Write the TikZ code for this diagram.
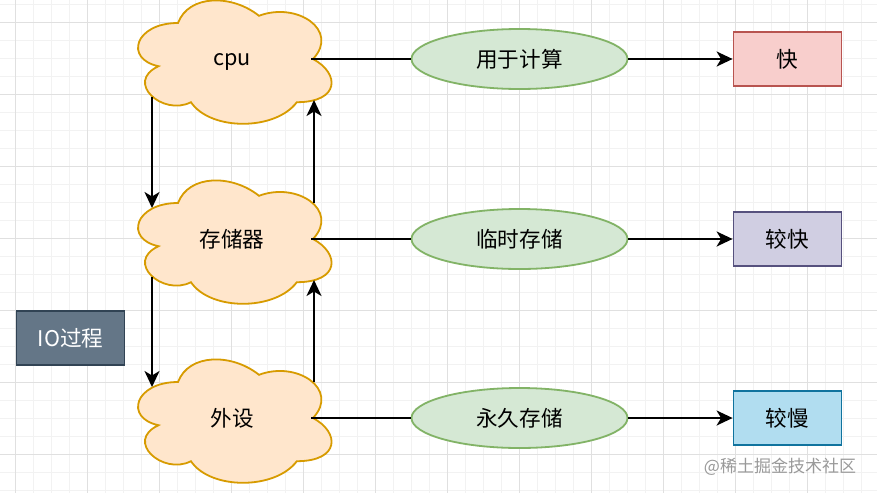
\documentclass[tikz,border=0pt]{standalone}
\usepackage{fontspec}
\setmainfont{Noto Sans CJK SC}
\usetikzlibrary{shapes.geometric,arrows.meta}

\definecolor{cloudfill}{HTML}{FFE6CC}
\definecolor{cloudline}{HTML}{D79B00}
\definecolor{ovalfill}{HTML}{D5E8D4}
\definecolor{ovalline}{HTML}{82B366}
\definecolor{redfill}{HTML}{F8CECC}
\definecolor{redline}{HTML}{B85450}
\definecolor{purplefill}{HTML}{D0CEE2}
\definecolor{purpleline}{HTML}{56517E}
\definecolor{bluefill}{HTML}{B1DDF0}
\definecolor{blueline}{HTML}{10739E}
\definecolor{iofill}{HTML}{647687}
\definecolor{ioline}{HTML}{314354}

% 云朵轮廓, #1 #2 为中心
\newcommand{\cloudat}[2]{%
  \begin{scope}[shift={(#1-108,#2-72)}, x=216pt, y=-144pt]
    \filldraw[fill=cloudfill, draw=cloudline, line width=1.8pt]
      (0.25,0.25) .. controls (0.05,0.25) and (0,0.5) .. (0.16,0.55)
      .. controls (0,0.66) and (0.18,0.9) .. (0.31,0.8)
      .. controls (0.4,1) and (0.7,1) .. (0.8,0.8)
      .. controls (1,0.8) and (1,0.6) .. (0.875,0.5)
      .. controls (1,0.3) and (0.8,0.1) .. (0.625,0.2)
      .. controls (0.5,0.05) and (0.3,0.05) .. (0.25,0.25) -- cycle;
  \end{scope}}

\tikzset{
  txt/.style={font=\fontsize{21.6pt}{26pt}\selectfont},
  cloudbox/.style={txt, minimum width=216pt, minimum height=144pt, inner sep=0pt},
  oval/.style={txt, ellipse, fill=ovalfill, draw=ovalline, line width=1.8pt, minimum width=216pt, minimum height=60pt, inner sep=0pt},
  speed/.style={txt, rectangle, line width=1.8pt, minimum width=108pt, minimum height=54pt, inner sep=0pt},
  link/.style={line width=2pt},
  arr/.style={line width=2pt, -{Stealth[length=16pt, width=15pt, inset=4.5pt]}},
}

\begin{document}
\begin{tikzpicture}[x=1pt, y=-1pt]
\useasboundingbox (0,0) rectangle (877,493);
% 网格背景
\fill[white] (0,0) rectangle (877,493);
\foreach \gx in {15,33,...,877} \draw[black!5, line width=0.8pt] (\gx,0) -- (\gx,493);
\foreach \gy in {4,22,...,493} \draw[black!5, line width=0.8pt] (0,\gy) -- (877,\gy);
\foreach \gx in {15,87,...,877} \draw[black!12, line width=1pt] (\gx,0) -- (\gx,493);
\foreach \gy in {22,94,...,493} \draw[black!12, line width=1pt] (0,\gy) -- (877,\gy);

% 云朵
\cloudat{232}{59}
\cloudat{232}{239}
\cloudat{232}{418}
\node[cloudbox, text depth=0pt] (cpu) at (232,59) {cpu};
\node[cloudbox] (mem) at (232,239) {存储器};
\node[cloudbox] (dev) at (232,418) {外设};

% 椭圆
\node[oval] (calc) at (519.5,59) {用于计算};
\node[oval] (temp) at (519.5,239) {临时存储};
\node[oval] (perm) at (519.5,418) {永久存储};

% 速度
\node[speed, fill=redfill, draw=redline] (fast) at (787.5,59) {快};
\node[speed, fill=purplefill, draw=purpleline] (faster) at (787.5,239) {较快};
\node[speed, fill=bluefill, draw=blueline] (slow) at (787.5,418) {较慢};

\node[speed, fill=iofill, draw=ioline, text=white] (io) at (70.5,338) {IO过程};
\node[font=\fontsize{17pt}{20pt}\selectfont, text=black!40] (mark) at (780,467) {@稀土掘金技术社区};

% 横线
\draw[link] ([shift={(79,0)}]cpu.center) -- (calc.west);
\draw[link] ([shift={(79,0)}]mem.center) -- (temp.west);
\draw[link] ([shift={(79,0)}]dev.center) -- (perm.west);
\draw[arr] (calc.east) -- (fast.west);
\draw[arr] (temp.east) -- (faster.west);
\draw[arr] (perm.east) -- (slow.west);

% 竖线
\draw[arr] ([shift={(-80,38)}]cpu.center) -- ([shift={(-80,-31)}]mem.center); % 向下
\draw[arr] ([shift={(-80,38)}]mem.center) -- ([shift={(-80,-31)}]dev.center); % 向下
\draw[arr] ([shift={(82,-36)}]mem.center) -- ([shift={(82,41)}]cpu.center); % 向上
\draw[arr] ([shift={(82,-36)}]dev.center) -- ([shift={(82,41)}]mem.center); % 向上

\end{tikzpicture}
\end{document}
